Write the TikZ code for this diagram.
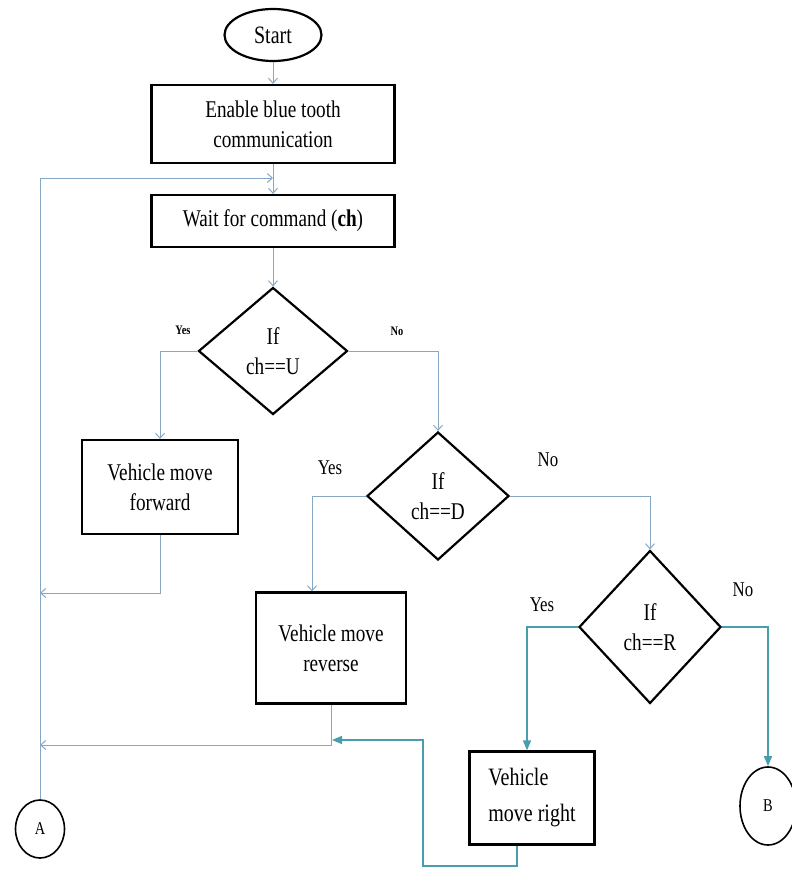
\documentclass[tikz,border=0pt]{standalone}
\usepackage{fontspec}
\setmainfont[FakeStretch=0.8]{Liberation Serif}
\usetikzlibrary{shapes.geometric,arrows.meta}
\definecolor{linkblue}{RGB}{135,168,196}
\definecolor{linkteal}{RGB}{72,158,172}

\begin{document}
\begin{tikzpicture}
  [x=1pt,y=-1pt,
   every node/.style={draw,line width=2.2pt,inner sep=2pt,align=center,
     font=\fontsize{24}{30}\selectfont},
   box/.style={rectangle},
   test/.style={diamond,aspect=1,inner sep=0pt},
   lbl/.style={draw=none,font=\fontsize{21}{24}\selectfont},
   link/.style={draw=linkblue,line width=1pt,-{Straight Barb[length=5pt,width=9pt]}},
   tlink/.style={draw=linkteal,line width=1.4pt,-{Triangle[length=10pt,width=8pt]}}]
  \useasboundingbox (0,0) rectangle (792,873);

  \node[ellipse,minimum width=97,minimum height=52,font=\fontsize{25}{30}\selectfont] (start) at (273,35) {Start};
  \node[box,minimum width=243,minimum height=78] (enable) at (273,124) {Enable blue tooth\\communication};
  \node[box,minimum width=243,minimum height=52] (wait) at (273,221) {Wait for command (\textbf{ch})};
  \node[test,minimum width=149,minimum height=127] (ifu) at (273,351) {If\\ch==U};
  \node[box,minimum width=156,minimum height=94] (fwd) at (160,487) {Vehicle move\\forward};
  \node[test,minimum width=142,minimum height=128] (ifd) at (438,496) {If\\ch==D};
  \node[box,minimum width=150,minimum height=111] (rev) at (331,648) {Vehicle move\\reverse};
  \node[test,minimum width=142,minimum height=153] (ifr) at (650,627) {If\\ch==R};
  \node[box,minimum width=125,minimum height=93,align=left,font=\fontsize{25}{30}\selectfont] (right) at (532,798) {Vehicle\\[6pt]move right};
  \node[ellipse,minimum width=49,minimum height=58,line width=1.6pt,font=\fontsize{18}{20}\selectfont] (a) at (40,829) {A};
  \node[ellipse,minimum width=56,minimum height=78,line width=1.6pt,font=\fontsize{18}{20}\selectfont] (b) at (768,806) {B};

  \node[lbl,font=\bfseries\fontsize{13}{15}\selectfont] (yu) at (183,330) {Yes};
  \node[lbl,font=\bfseries\fontsize{13}{15}\selectfont] (nu) at (397,331) {No};
  \node[lbl] (yd) at (330,468) {Yes};
  \node[lbl] (nd) at (548,460) {No};
  \node[lbl] (yr) at (542,605) {Yes};
  \node[lbl] (nr) at (743,590) {No};

  \coordinate (jn) at (273,178);
  \coordinate (m1) at (40,593);
  \coordinate (m2) at (40,745);
  \coordinate (m3) at (332,740);
  \coordinate (c1) at (423,866);

  \foreach \from/\to in {start/enable,enable/wait,wait/ifu}
    \draw[link] (\from) -- (\to);

  \draw[link] (ifu.west) -| (fwd.north);
  \draw[link] (ifu.east) -| (ifd.north);
  \draw[link] (ifd.west) -| ([xshift=-19pt]rev.north);
  \draw[link] (ifd.east) -| (ifr.north);
  \draw[tlink] (ifr.west) -| ([xshift=-5pt]right.north);
  \draw[tlink] (ifr.east) -| (b.north);

  \draw[link] (fwd.south) |- (m1);
  \draw[link] (rev.south) |- (m2);
  \draw[tlink] ([xshift=-15pt]right.south) |- (c1) |- (m3);
  \draw[link] (a.north) |- (jn);

\end{tikzpicture}
\end{document}
